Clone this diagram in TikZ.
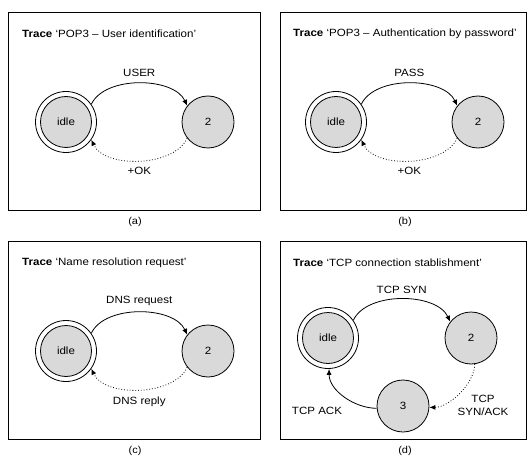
\documentclass[tikz,border=0pt]{standalone}
\usepackage{fontspec}
\setmainfont{Liberation Sans}[FakeStretch=1.1]
\usetikzlibrary{arrows.meta}
\begin{document}
\begin{tikzpicture}[x=1pt,y=-1pt,
  panel/.style={draw, line width=0.9pt},
  state/.style={circle, draw, line width=0.8pt, fill=black!15, minimum size=52pt, inner sep=0pt, font=\fontsize{10.5}{12}\selectfont},
  ring/.style={circle, draw, line width=0.8pt, minimum size=61pt, inner sep=0pt},
  tr/.style={line width=0.8pt, -{Latex[length=6pt,width=5pt]}},
  back/.style={tr, dotted},
  lbl/.style={font=\fontsize{10.5}{13}\selectfont},
  ttl/.style={anchor=west, inner sep=0pt, font=\fontsize{10.5}{12}\selectfont},
  captxt/.style={font=\fontsize{10}{12}\selectfont}]
\useasboundingbox (0,0) rectangle (527,457);

% (a) POP3 user identification
\draw[panel] (8,12) rectangle (260,210);
\node[ttl] (ta) at (22,34) {\textbf{Trace} ‘POP3 – User identification’};
\node[ring] (ia) at (66,122) {};
\node[state, minimum size=51pt] (ia0) at (ia) {idle};
\node[state] (sa) at (208,122) {2};
\draw[tr] (ia.35) to[out=65, in=115, looseness=0.85] node[lbl, above=3pt] {USER} (sa.142);
\draw[back] (sa.218) to[out=-115, in=-65, looseness=0.85] node[lbl, below=3pt] {+OK} (ia.-35);
\node[captxt] (ca) at (135,222) {(a)};

% (b) POP3 authentication by password
\draw[panel] (280,12) rectangle (526.5,210);
\node[ttl] (tb) at (293,34) {\textbf{Trace} ‘POP3 – Authentication by password’};
\node[ring] (ib) at (336,122) {};
\node[state, minimum size=51pt] (ib0) at (ib) {idle};
\node[state] (sb) at (478,122) {2};
\draw[tr] (ib.35) to[out=65, in=115, looseness=0.85] node[lbl, above=3pt] {PASS} (sb.142);
\draw[back] (sb.218) to[out=-115, in=-65, looseness=0.85] node[lbl, below=3pt] {+OK} (ib.-35);
\node[captxt] (cb) at (405,222) {(b)};

% (c) name resolution request
\draw[panel] (8,241) rectangle (260,439);
\node[ttl] (tc) at (22,263) {\textbf{Trace} ‘Name resolution request’};
\node[ring] (ic) at (66,351) {};
\node[state, minimum size=51pt] (ic0) at (ic) {idle};
\node[state] (sc) at (208,351) {2};
\draw[tr] (ic.35) to[out=65, in=115, looseness=0.85] node[lbl, above=3pt] {DNS request} (sc.142);
\draw[back] (sc.218) to[out=-115, in=-65, looseness=0.85] node[lbl, below=3pt] {DNS reply} (ic.-35);
\node[captxt] (cc) at (135,451) {(c)};

% (d) TCP connection establishment
\draw[panel] (280,241) rectangle (526.5,439);
\node[ttl] (td) at (293,263) {\textbf{Trace} ‘TCP connection stablishment’};
\node[ring] (id) at (328,338) {};
\node[state, minimum size=51pt] (id0) at (id) {idle};
\node[state] (sd) at (471,338) {2};
\node[state] (td3) at (403,406) {3};
\draw[tr] (id.35) to[out=65, in=115, looseness=0.85] node[lbl, above=2pt] {TCP SYN} (sd.142);
\draw[back] (sd.-82) to[out=-90, in=0, looseness=0.8] (td3.-3);
\node[lbl, align=center] (sa2) at (483,405) {TCP\\SYN/ACK};
\draw[tr] (td3.185) to[out=180, in=-90, looseness=0.9] (id.-88);
\node[lbl] (ack) at (317,411) {TCP ACK};
\node[captxt] (cd) at (405,451) {(d)};
\end{tikzpicture}
\end{document}
